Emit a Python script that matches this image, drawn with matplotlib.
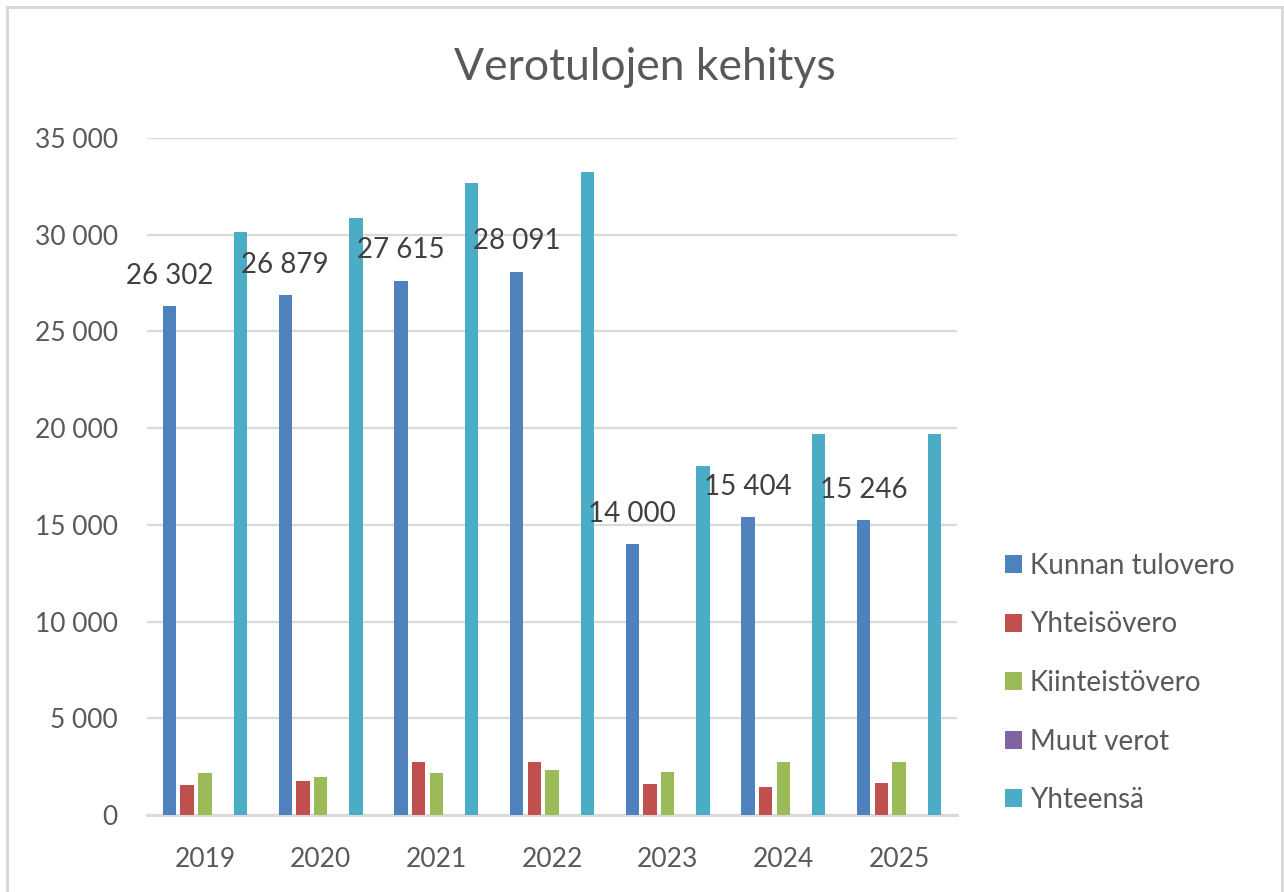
import matplotlib
matplotlib.use("Agg")
import matplotlib.pyplot as plt
from matplotlib.patches import Rectangle
from matplotlib.ticker import FuncFormatter
import numpy as np

plt.rcParams['font.family'] = ['Lato', 'DejaVu Sans']

years = ["2019", "2020", "2021", "2022", "2023", "2024", "2025"]
series_names = ["Kunnan tulovero", "Yhteisövero", "Kiinteistövero", "Muut verot", "Yhteensä"]
kunnan_tulovero = [26302, 26879, 27615, 28091, 14000, 15404, 15246]
yhteisovero = [1550, 1780, 2750, 2750, 1600, 1450, 1650]
kiinteistovero = [2150, 1980, 2150, 2320, 2220, 2760, 2760]
muut_verot = [0, 0, 0, 0, 0, 0, 0]
yhteensa = [30150, 30850, 32650, 33250, 18050, 19700, 19700]
colors = ["#4F81BD", "#C0504D", "#9BBB59", "#8064A2", "#4BACC6"]

series = [kunnan_tulovero, yhteisovero, kiinteistovero, muut_verot, yhteensa]

TXT = "#595959"
GRID = "#D9D9D9"

fig = plt.figure(figsize=(12.84, 8.92), dpi=100)
fig.patches.append(Rectangle((7/1284, -0.01), (1282-7)/1284, 1 - 7/892 + 0.01,
                             transform=fig.transFigure, fill=False,
                             edgecolor=GRID, linewidth=2.2))

ax = fig.add_axes([147/1284, 1 - 815/892, (957-147)/1284, (815-138)/892])
x = np.arange(len(years))
step = 0.153
width = 0.115
for i, (vals, c, name) in enumerate(zip(series, colors, series_names)):
    off = (i - 2) * step
    ax.bar(x + off, vals, width=width, color=c, label=name, zorder=3)

for xi, v in zip(x, kunnan_tulovero):
    ax.annotate(f"{v:,}".replace(",", " "), (xi - 2 * step, v),
                xytext=(0, 12.5), textcoords="offset points",
                ha="center", va="bottom", fontsize=20, color="#404040", zorder=5)

ax.set_xlim(-0.5, len(years) - 0.5)
ax.set_ylim(0, 35000)
ax.set_yticks(np.arange(0, 35001, 5000))
ax.yaxis.set_major_formatter(FuncFormatter(lambda v, p: f"{int(v):,}".replace(",", " ")))
ax.set_xticks(x)
ax.set_xticklabels(years)
ax.tick_params(axis="both", length=0, labelsize=19, colors=TXT)
ax.tick_params(axis="y", pad=21)
ax.tick_params(axis="x", pad=23)
ax.grid(axis="y", color=GRID, linewidth=1.6, zorder=0)
for s in ["top", "right", "left"]:
    ax.spines[s].set_visible(False)
ax.spines["bottom"].set_color(GRID)
ax.spines["bottom"].set_linewidth(2.2)

fig.text(645/1284, 1 - 68/892, "Verotulojen kehitys", ha="center", va="center",
         fontsize=32, color=TXT)

leg = fig.legend(loc="center left", bbox_to_anchor=(980/1284, 1 - 683/892),
                 frameon=False, fontsize=20, labelcolor=TXT,
                 handlelength=0.6, handleheight=0.6, handletextpad=0.3,
                 labelspacing=1.17)

fig.savefig("out.png", dpi=100)
